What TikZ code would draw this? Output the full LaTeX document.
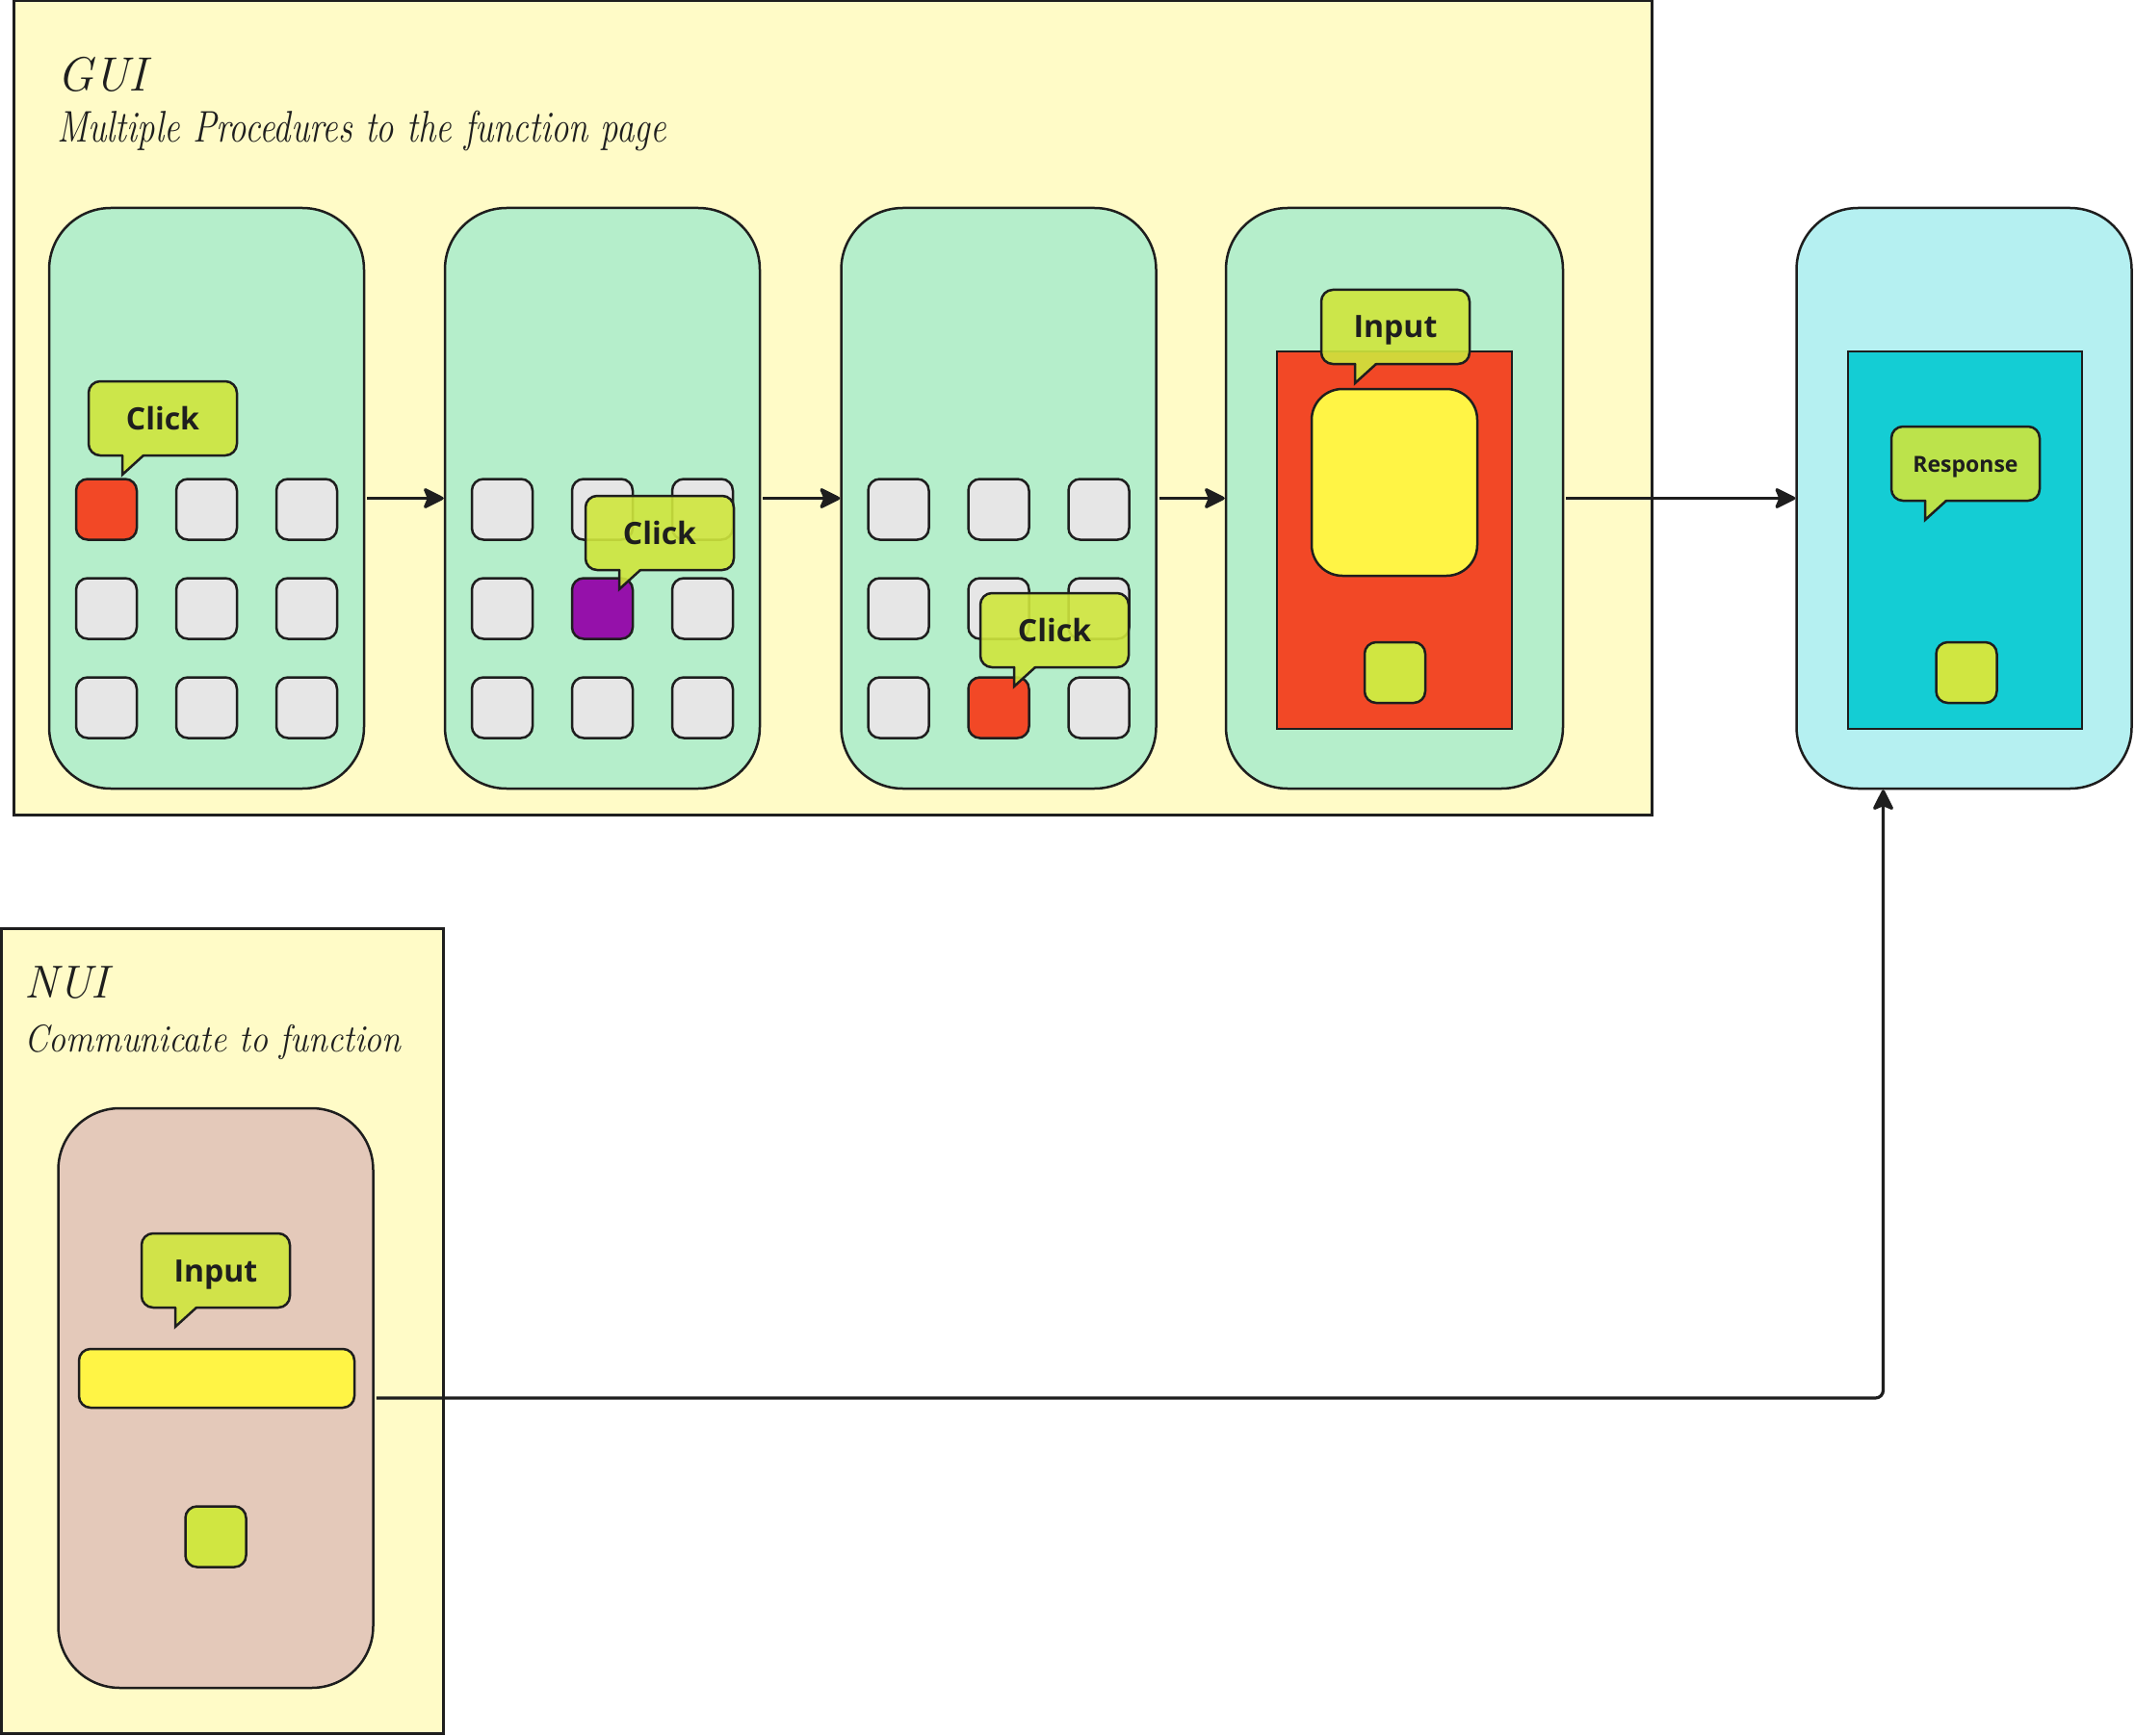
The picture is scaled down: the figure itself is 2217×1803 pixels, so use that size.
\documentclass[tikz,border=0pt]{standalone}
\usepackage{fontspec}
\usepackage{graphicx}
\newfontfamily\osans{Open Sans}
\usetikzlibrary{arrows.meta}
\definecolor{ink}{HTML}{1E1E1E}
\definecolor{framebg}{HTML}{FFFBC7}
\definecolor{phonegreen}{HTML}{B5EECB}
\definecolor{btngray}{HTML}{E6E6E6}
\definecolor{btnred}{HTML}{F24826}
\definecolor{btnpurple}{HTML}{9511AA}
\definecolor{bubgreen}{HTML}{CFE63D}
\definecolor{inputyellow}{HTML}{FFF445}
\definecolor{okgreen}{HTML}{D0E641}
\definecolor{phonecyan}{HTML}{B5F0F1}
\definecolor{screenteal}{HTML}{14CDD4}
\definecolor{phonebeige}{HTML}{E4C9BA}
\tikzset{
  frame/.style={draw=ink, line width=3pt, fill=framebg, inner sep=0pt},
  phone/.style={draw=ink, line width=2.5pt, rounded corners=64pt, minimum width=327pt, minimum height=603pt, inner sep=0pt},
  btn/.style={draw=ink, line width=2.5pt, rounded corners=12pt, minimum width=63pt, minimum height=63pt, inner sep=0pt},
  screen/.style={draw=ink, line width=2.5pt, minimum width=244pt, minimum height=392pt, inner sep=0pt},
  bubbg/.style={fill=bubgreen, fill opacity=0.9},
  bubline/.style={draw=ink, line width=2.5pt, line cap=round},
  bubtext/.style={text=ink, inner sep=0pt, anchor=base},
  title/.style={text=ink, inner sep=0pt, anchor=base west},
  arr/.style={draw=ink, line width=3.2pt, -{Stealth[length=24pt,width=24pt,inset=5pt,round]}},
}
\newcommand{\speech}[6]{% name, x, y, text, size, baseline
  \begin{scope}[shift={(#2,#3)}]
    \fill[bubbg] [rounded corners=12pt] (0,0) rectangle (154,77) [sharp corners] (35,77) -- (35,97) -- (57,77) -- cycle;
    \draw[bubline, rounded corners=12pt] (57,77) -- (154,77) -- (154,0) -- (0,0) -- (0,77) -- (35,77);
    \draw[bubline] (35,77) -- (35,97) -- (57,77);
    \node[bubtext, font=\osans\bfseries\fontsize{#5}{#5}\selectfont] (#1) at (77,#6) {#4};
  \end{scope}}
\begin{document}
\begin{tikzpicture}[x=1pt, y=-1pt]
\useasboundingbox (0,0) rectangle (2217,1803);
\fill[white] (0,0) rectangle (2217,1803);
% frames
\node[frame, minimum width=1701pt, minimum height=845pt] (gui) at (864.5,423.5) {};
\node[frame, minimum width=459pt, minimum height=836pt] (nui) at (230.5,1382) {};
\node[title, font=\itshape\fontsize{50}{50}\selectfont] (guititle) at (59,95) {GUI};
\node[title, font=\itshape\fontsize{46}{46}\selectfont] (guisub) at (59,148) {\scalebox{0.8}[1]{Multiple Procedures to the function page}};
\node[title, font=\itshape\fontsize{48}{48}\selectfont] (nuititle) at (25,1036) {NUI};
\node[title, font=\itshape\fontsize{40}{40}\selectfont] (nuisub) at (25,1092) {\scalebox{0.9}[1]{Communicate to function}};
% phones
\node[phone, fill=phonegreen] (p1) at (214.5,517.5) {};
\node[phone, fill=phonegreen] (p2) at (625.5,517.5) {};
\node[phone, fill=phonegreen] (p3) at (1037,517.5) {};
\node[phone, fill=phonegreen, minimum width=350pt] (p4) at (1448,517.5) {};
\node[phone, fill=phonecyan, minimum width=348pt] (p5) at (2039.5,517.5) {};
\node[phone, fill=phonebeige, minimum height=602pt] (np) at (224,1452) {};
% phone 1 buttons
\node[btn, fill=btnred]  (a11) at (110.5,529) {};
\node[btn, fill=btngray] (a12) at (214.5,529) {};
\node[btn, fill=btngray] (a13) at (318.5,529) {};
\node[btn, fill=btngray] (a21) at (110.5,632) {};
\node[btn, fill=btngray] (a22) at (214.5,632) {};
\node[btn, fill=btngray] (a23) at (318.5,632) {};
\node[btn, fill=btngray] (a31) at (110.5,735) {};
\node[btn, fill=btngray] (a32) at (214.5,735) {};
\node[btn, fill=btngray] (a33) at (318.5,735) {};
% phone 2 buttons
\node[btn, fill=btngray] (b11) at (521.5,529) {};
\node[btn, fill=btngray] (b12) at (625.5,529) {};
\node[btn, fill=btngray] (b13) at (729.5,529) {};
\node[btn, fill=btngray] (b21) at (521.5,632) {};
\node[btn, fill=btnpurple] (b22) at (625.5,632) {};
\node[btn, fill=btngray] (b23) at (729.5,632) {};
\node[btn, fill=btngray] (b31) at (521.5,735) {};
\node[btn, fill=btngray] (b32) at (625.5,735) {};
\node[btn, fill=btngray] (b33) at (729.5,735) {};
% phone 3 buttons
\node[btn, fill=btngray] (c11) at (933,529) {};
\node[btn, fill=btngray] (c12) at (1037,529) {};
\node[btn, fill=btngray] (c13) at (1141,529) {};
\node[btn, fill=btngray] (c21) at (933,632) {};
\node[btn, fill=btngray] (c22) at (1037,632) {};
\node[btn, fill=btngray] (c23) at (1141,632) {};
\node[btn, fill=btngray] (c31) at (933,735) {};
\node[btn, fill=btnred]  (c32) at (1037,735) {};
\node[btn, fill=btngray] (c33) at (1141,735) {};
% phone 4 contents
\node[screen, fill=btnred] (s4) at (1448,561) {};
\node[btn, fill=inputyellow, minimum width=172pt, minimum height=194pt, rounded corners=32pt] (txt4) at (1448,501) {};
\node[btn, fill=okgreen] (ok4) at (1448.5,698.5) {};
% phone 5 contents
\node[screen, fill=screenteal, minimum width=243pt] (s5) at (2040.5,561) {};
\node[btn, fill=okgreen] (ok5) at (2042,698.5) {};
% NUI contents
\node[btn, fill=inputyellow, minimum width=286pt, minimum height=61pt] (bar) at (225,1431.5) {};
\node[btn, fill=okgreen] (okn) at (224,1596) {};
% bubbles
\speech{click1}{92}{396}{Click}{32}{50}
\speech{click2}{608}{515}{Click}{32}{50}
\speech{click3}{1018}{616}{Click}{32}{50}
\speech{input4}{1372}{301}{Input}{32}{50}
\speech{resp5}{1964}{443}{Response}{23}{47}
\speech{inputn}{147}{1281}{Input}{32}{50}
% connectors
\draw[arr] ([xshift=2pt]p1.east) -- (p2.west);
\draw[arr] ([xshift=2pt]p2.east) -- (p3.west);
\draw[arr] ([xshift=2pt]p3.east) -- (p4.west);
\draw[arr] ([xshift=2pt]p4.east) -- (p5.west);
\draw[arr, rounded corners=8pt] ([xshift=2pt]np.east) -| ([xshift=-84pt]p5.south);
\end{tikzpicture}
\end{document}
